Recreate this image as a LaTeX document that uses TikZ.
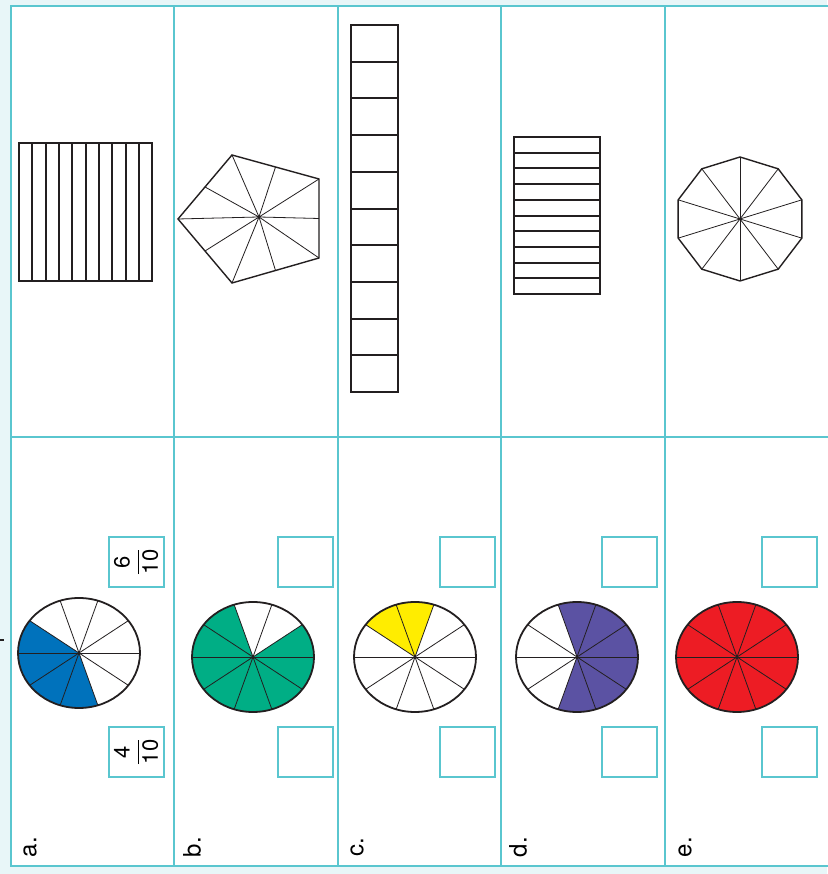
\documentclass[tikz,border=0pt]{standalone}
\usepackage{fontspec}
\setmainfont{TeX Gyre Heros}
\usetikzlibrary{calc}

\definecolor{gridcyan}{RGB}{90,198,207}
\definecolor{bgcyan}{RGB}{232,246,248}
\definecolor{inkdark}{RGB}{35,31,32}
\definecolor{fillblue}{RGB}{0,114,188}
\definecolor{fillgreen}{RGB}{0,174,133}
\definecolor{fillyellow}{RGB}{255,237,0}
\definecolor{fillpurple}{RGB}{91,82,163}
\definecolor{fillred}{RGB}{237,28,36}

\begin{document}
\begin{tikzpicture}[
        x=1pt, y=1pt,
        grid/.style={draw=gridcyan, line width=2.2pt, line cap=rect},
        shape line/.style={draw=inkdark, line width=1.4pt},
        thin line/.style={draw=inkdark, line width=0.8pt},
        answer/.style={rectangle, draw=gridcyan, line width=2pt, minimum width=55pt, minimum height=50pt, inner sep=0pt},
        letter/.style={rotate=90, inner sep=0pt, font=\fontsize{24}{28}\selectfont},
        frac/.style={rotate=90, inner sep=0pt, font=\fontsize{22}{26}\selectfont}
    ]
        % Background
        \fill[bgcyan] (0,0) rectangle (827,874);
        \fill[white] (11,8) rectangle (827,868);
        \useasboundingbox (0,0) rectangle (827,874);
        \draw[inkdark, line width=1.5pt] (0,234) -- (4,234);

        % Grid
        \foreach \x in {11,174,338,501,665}
            \draw[grid] (\x,8) -- (\x,868);
        \foreach \y in {8,437,868}
            \draw[grid] (11,\y) -- (827,\y);

        % Top row: a, vertical strips
        \draw[shape line] (19,593) rectangle (152,731);
        \foreach \x in {32,46,59,72,86,99,112,126,139}
            \draw[shape line] (\x,593) -- (\x,731);

        % Top row: b, pentagon
        \coordinate (pc) at (259,657);
        \coordinate (p1) at (178,655);
        \coordinate (p2) at (232,719);
        \coordinate (p3) at (319,695);
        \coordinate (p4) at (319,616);
        \coordinate (p5) at (232,591);
        \draw[shape line] (p1) -- (p2) -- (p3) -- (p4) -- (p5) -- cycle;
        \foreach \a/\b in {p1/p2, p2/p3, p3/p4, p4/p5, p5/p1}
            \draw[thin line] (pc) -- (\a) (pc) -- ($(\a)!0.5!(\b)$);

        % Top row: c, stack of squares
        \draw[shape line] (351,482) rectangle (398,849);
        \foreach \y in {519,555,592,629,665,702,739,776,812}
            \draw[shape line] (351,\y) -- (398,\y);

        % Top row: d, horizontal strips
        \draw[shape line] (514,580) rectangle (600,737);
        \foreach \y in {596,611,627,643,658,674,690,706,721}
            \draw[shape line] (514,\y) -- (600,\y);

        % Top row: e, decagon
        \coordinate (dc) at (740,655);
        \draw[shape line] ($(dc)+(90:65pt and 62pt)$)
            \foreach \k in {1,...,9} { -- ($(dc)+({90+36*\k}:65pt and 62pt)$) } -- cycle;
        \foreach \k in {0,...,9}
            \draw[thin line] (dc) -- ++({90+36*\k}:65pt and 62pt);

        % Bottom row: circles
        \foreach \n/\cx/\cy/\col/\from/\to in {a/79/221/fillblue/144/288, b/253/217/fillgreen/108/396,
                c/415/217/fillyellow/72/144, d/577/217/fillpurple/252/468, e/737/217/fillred/0/360} {
            \coordinate (c\n) at (\cx,\cy);
            \fill[\col] (c\n) -- ++(\from:61pt and 55pt)
                arc[start angle=\from, end angle=\to, x radius=61pt, y radius=55pt] -- cycle;
            \foreach \k in {0,...,9}
                \draw[thin line] (c\n) -- ++({36*\k}:61pt and 55pt);
            \draw[shape line, line width=1.8pt] (c\n) ellipse [x radius=61pt, y radius=55pt];
        }

        % Answer boxes
        \foreach \n/\x in {a/136, b/305.5, c/467.5, d/629.5, e/789.5} {
            \node[answer] (top\n) at (\x,312) {};
            \node[answer] (bot\n) at (\x,122) {};
        }
        \node[frac] (sixten) at (topa) {$\displaystyle\frac{\mbox{6}}{\mbox{10}}$};
        \node[frac] (fourten) at (bota) {$\displaystyle\frac{\mbox{4}}{\mbox{10}}$};

        % Labels
        \foreach \n/\x in {a/30, b/192, c/357, d/518, e/685}
            \node[letter] (lab\n) at (\x,27) {\n.};
    \end{tikzpicture}
\end{document}
